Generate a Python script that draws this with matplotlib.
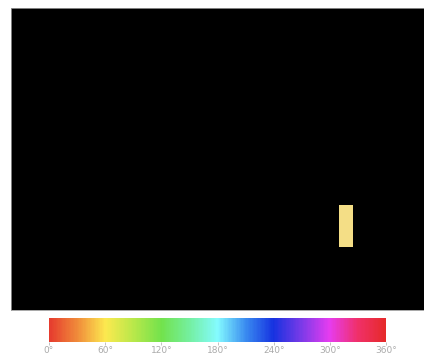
import numpy as np
import matplotlib
matplotlib.use('Agg')
import matplotlib.pyplot as plt
from matplotlib.colors import hsv_to_rgb, Normalize, LinearSegmentedColormap
from matplotlib.cm import ScalarMappable

# image grid (rows x cols), mostly empty (zero amplitude)
n_rows = 43
n_cols = 60
patch_rows = list(range(28, 34))
patch_cols = [47, 48]
patch_hue = 48.0        # degrees
patch_sat = 0.45
patch_val = 0.96

hue_ticks = [0, 60, 120, 180, 240, 300, 360]
hue_labels = [f'{t}°' for t in hue_ticks]

# soft hue wheel like the reference colour bar
wheel_pos = [0, 30, 60, 90, 120, 150, 180, 210, 240, 270, 300, 330, 360]
wheel_col = ['#e63b2e', '#f08c3a', '#fce94f', '#b8e84a', '#72e24c', '#74efa0',
             '#84fbff', '#3a8cf0', '#1632e0', '#7a3ae8', '#e63cf0', '#f0306a',
             '#e62a2a']
hue_cmap = LinearSegmentedColormap.from_list(
    'hue', list(zip([p / 360 for p in wheel_pos], wheel_col)))

hue = np.full((n_rows, n_cols), patch_hue / 360.0)
sat = np.zeros((n_rows, n_cols))
val = np.zeros((n_rows, n_cols))
for r in patch_rows:
    for c in patch_cols:
        sat[r, c] = patch_sat
        val[r, c] = patch_val
rgb = hsv_to_rgb(np.dstack([hue, sat, val]))

fig = plt.figure(figsize=(4.24, 3.58), dpi=100)
ax = fig.add_axes([11 / 424, 48 / 358, 419 / 424, 302 / 358])
ax.imshow(rgb, aspect='auto', interpolation='nearest')
ax.set_xticks([])
ax.set_yticks([])
for s in ax.spines.values():
    s.set_color('#999999')
    s.set_linewidth(0.6)

cax = fig.add_axes([49 / 424, 16 / 358, 337 / 424, 24 / 358])
sm = ScalarMappable(norm=Normalize(0, 360), cmap=hue_cmap)
cb = fig.colorbar(sm, cax=cax, orientation='horizontal')
cb.set_ticks(hue_ticks)
cb.set_ticklabels(hue_labels)
cb.outline.set_visible(False)
cax.tick_params(labelsize=6.5, colors='#aaaaaa', length=2, width=0.5, pad=1)

fig.savefig('out.png', dpi=100)
